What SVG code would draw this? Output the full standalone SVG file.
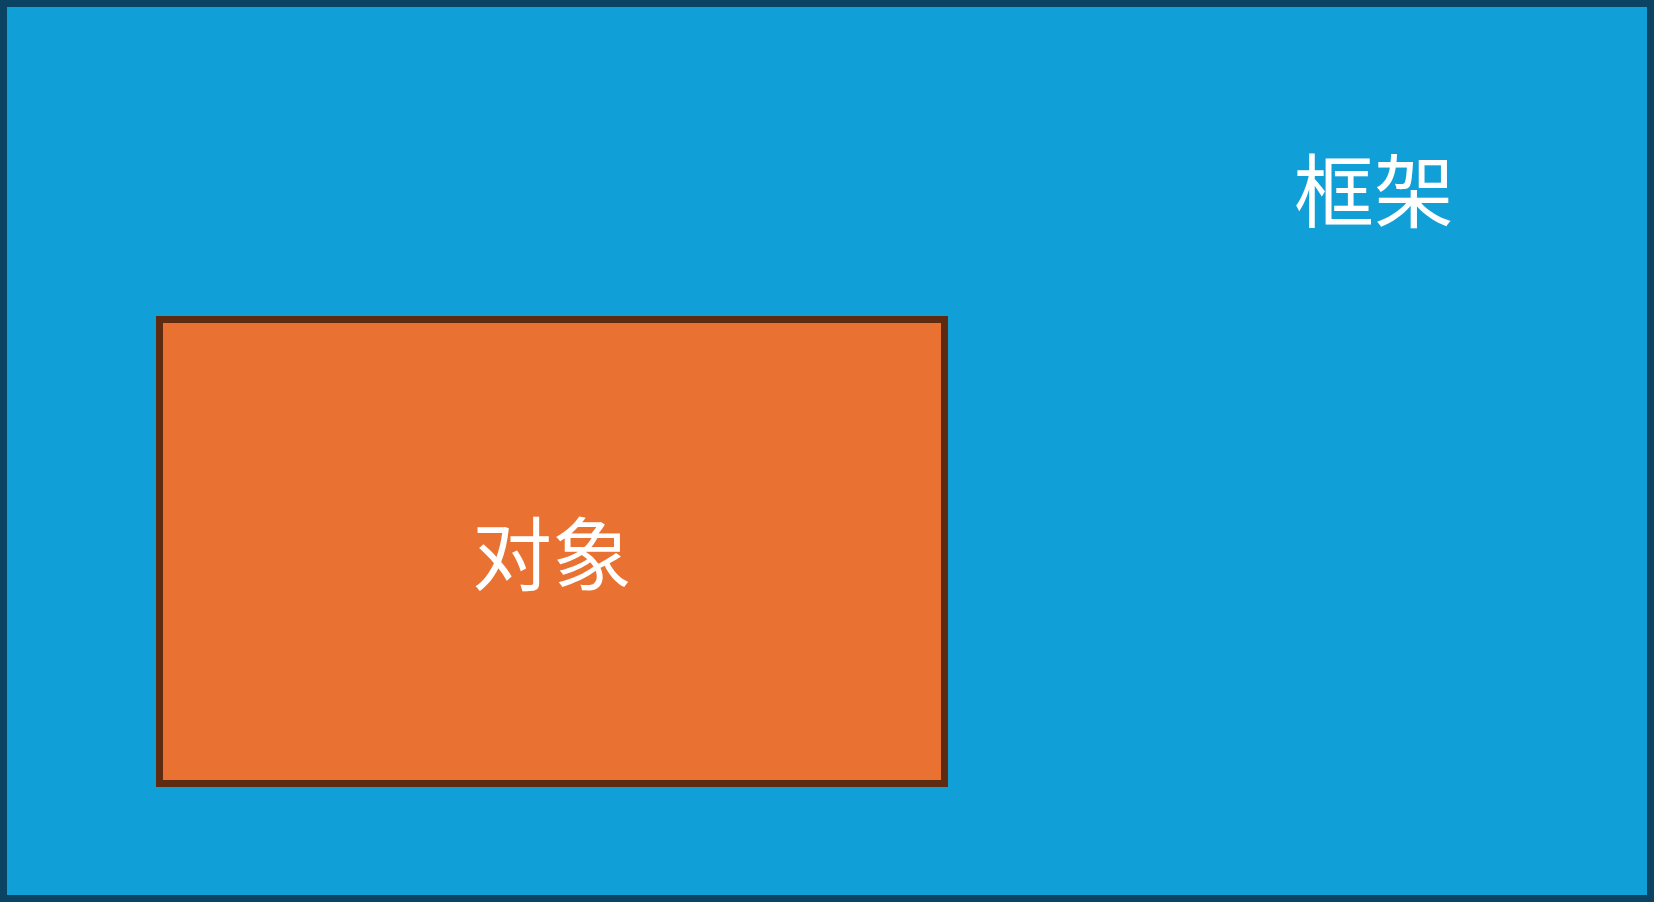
<svg xmlns="http://www.w3.org/2000/svg" width="1654" height="902" viewBox="0 0 1654 902">
  <style>
    .lbl { font-family: "Noto Sans CJK SC", "Noto Sans", sans-serif; font-size: 80px; fill: #ffffff; text-anchor: middle; }
  </style>
  <g id="frame">
    <rect x="3.5" y="3.5" width="1647" height="895" fill="#109FD7" stroke="#0B4462" stroke-width="7"/>
    <text class="lbl" x="1374" y="221">框架</text>
  </g>
  <g id="object">
    <rect x="159.5" y="319.5" width="785" height="464" fill="#E97232" stroke="#5E2A10" stroke-width="7"/>
    <text class="lbl" x="552" y="584">对象</text>
  </g>
  <g id="connectors"></g>
</svg>
